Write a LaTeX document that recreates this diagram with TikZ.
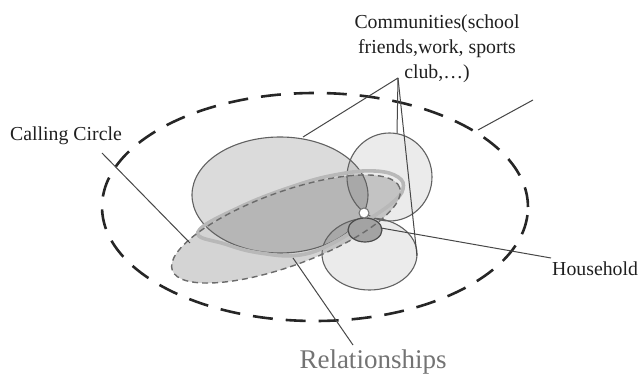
\documentclass[tikz,border=0pt]{standalone}
\usepackage{fontspec}
\setmainfont{Liberation Serif}
\begin{document}
\begin{tikzpicture}[x=1pt,y=-1pt,
  outline/.style={draw=black!62, line width=1.1pt},
  lead/.style={draw=black!72, line width=1pt},
  lbl/.style={font=\fontsize{19.8}{25}\selectfont, text=black!88, inner sep=0pt},
  bigdash/.style={draw=black!85, line width=2.6pt, dash pattern=on 20pt off 13pt},
  ring/.style={draw=black!28, line width=3.6pt},
  reldash/.style={draw=black!58, line width=1.4pt, dash pattern=on 6pt off 4pt},
]
\useasboundingbox (0,0) rectangle (643,374);

% outer calling circle
\draw[bigdash] (315,207) ellipse [x radius=213pt, y radius=114pt];

% fills
\fill[black, fill opacity=0.14] (280,195) ellipse [x radius=88pt, y radius=58pt];
\fill[black, fill opacity=0.08] (389.5,177) ellipse [x radius=42.5pt, y radius=44pt];
\fill[black, fill opacity=0.08] (369.5,254) ellipse [x radius=47.5pt, y radius=36pt];
\begin{scope}[shift={(286,229)}, rotate=20]
  \fill[black, fill opacity=0.17] (0,0) ellipse [x radius=121pt, y radius=37pt];
\end{scope}

% outlines of communities
\draw[outline] (280,195) ellipse [x radius=88pt, y radius=58pt];
\draw[outline] (389.5,177) ellipse [x radius=42.5pt, y radius=44pt];
\draw[outline] (369.5,254) ellipse [x radius=47.5pt, y radius=36pt];

% relationships ring
\draw[ring] plot[smooth cycle, tension=0.7] coordinates {
  (198,232) (240,207) (297,185) (340,174) (375,171) (398,177) (403,189)
  (392,203) (365,222) (335,242) (300,255) (260,253) (225,244)};

% household fill (dashed ellipse shows through)
\fill[black!36] (365,230) ellipse [x radius=17pt, y radius=12pt];

% dashed relationships ellipse
\begin{scope}[shift={(286,229)}, rotate=20]
  \draw[reldash] (0,0) ellipse [x radius=121pt, y radius=37pt];
\end{scope}

% household outline and white point
\draw[draw=black!70, line width=1.2pt] (365,230) ellipse [x radius=17pt, y radius=12pt];
\draw[draw=black!55, line width=1pt, fill=white] (364,213) circle [radius=5pt];

% labels
\node[lbl, anchor=base west] (calling) at (10,141) {Calling Circle};
\node[lbl, anchor=base west] (household) at (552,276) {Household};
\node[lbl, align=center, anchor=north] (comm) at (437,15) {Communities(school\\friends,work, sports\\club,…)};
\node[font=\fontsize{27}{30}\selectfont, text=black!55, inner sep=0pt, anchor=base] (rel) at (373,368) {Relationships};

% connector points
\coordinate (ccA) at (102,153);
\coordinate (ccB) at (190,243);
\coordinate (trA) at (533,100);
\coordinate (trB) at (478,130);
\coordinate (apex) at (398,78);
\coordinate (cm1) at (303,137);
\coordinate (cm2) at (397,133);
\coordinate (cm3) at (417,256);
\coordinate (hhA) at (381,228);
\coordinate (hhB) at (551,258);
\coordinate (rlA) at (293,258);
\coordinate (rlB) at (353,345);

\draw[lead] (ccA) -- (ccB);
\draw[lead] (trA) -- (trB);
\draw[lead] (apex) -- (cm1);
\draw[lead] (apex) -- (cm2);
\draw[lead] (apex) -- (cm3);
\draw[lead] (hhA) -- (hhB);
\draw[lead] (rlA) -- (rlB);
\end{tikzpicture}
\end{document}
